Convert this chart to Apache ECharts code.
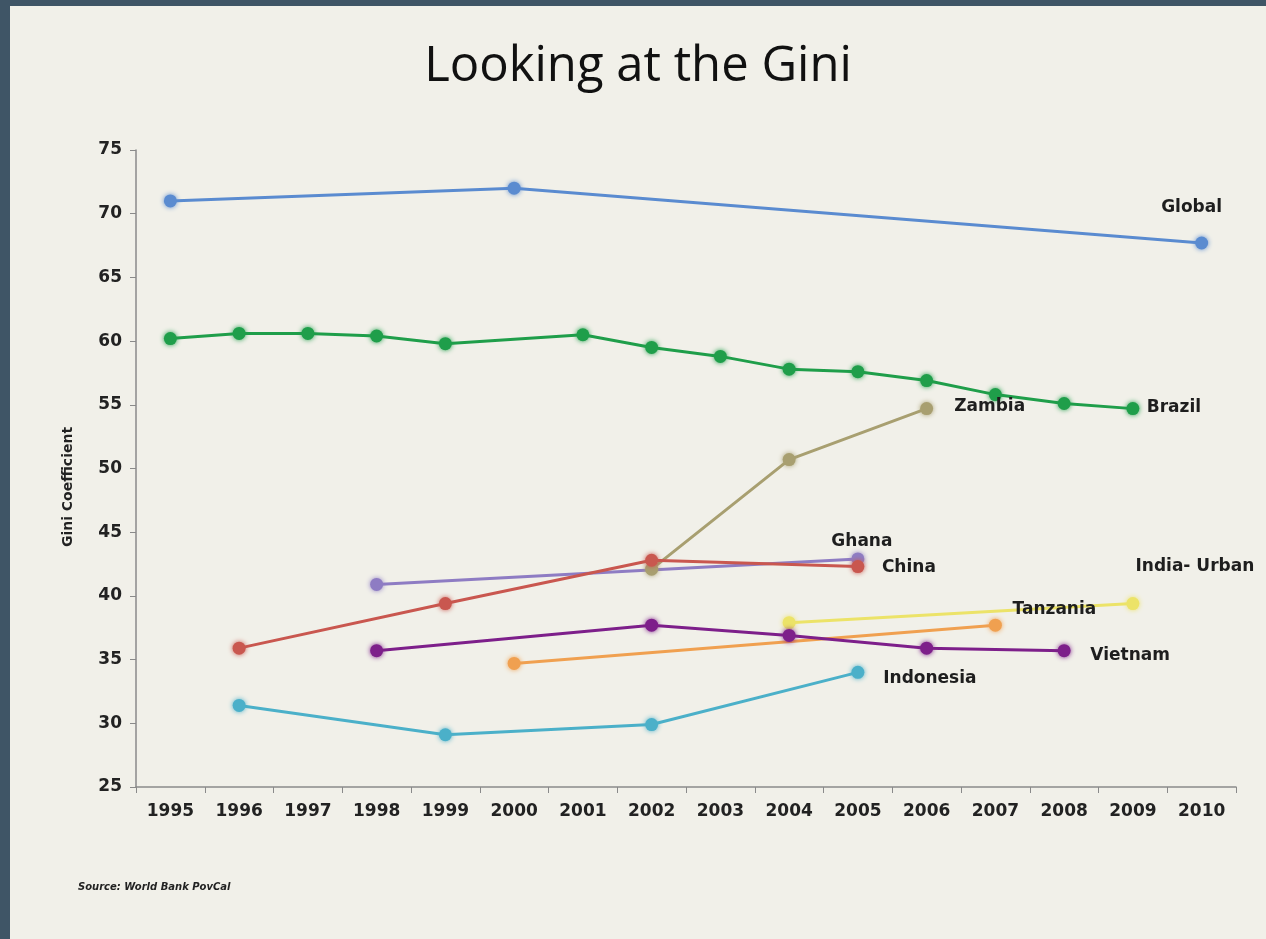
<!DOCTYPE html>
<html>
<head>
<meta charset="utf-8">
<script src="https://cdn.jsdelivr.net/npm/echarts@6/dist/echarts.min.js"></script>
<style>
  html, body { margin: 0; padding: 0; width: 1266px; height: 939px; background: #3f5566; overflow: hidden; }
  #chart { position: absolute; left: 10px; top: 6px; width: 1256px; height: 933px; background: #f1f0e9; }
</style>
</head>
<body>
<div id="chart"></div>
<script>
const years = ['1995','1996','1997','1998','1999','2000','2001','2002','2003','2004','2005','2006','2007','2008','2009','2010'];
const yTicks = { min: 25, max: 75, interval: 5 };

const globalVals    = [71.0, null, null, null, null, 72.0, null, null, null, null, null, null, null, null, null, 67.7];
const brazilVals    = [60.2, 60.6, 60.6, 60.4, 59.8, null, 60.5, 59.5, 58.8, 57.8, 57.6, 56.9, 55.8, 55.1, 54.7, null];
const zambiaVals    = [null, null, null, null, null, null, null, 42.1, null, 50.7, null, 54.7, null, null, null, null];
const ghanaVals     = [null, null, null, 40.9, null, null, null, null, null, null, 42.9, null, null, null, null, null];
const chinaVals     = [null, 35.9, null, null, 39.4, null, null, 42.8, null, null, 42.3, null, null, null, null, null];
const indiaVals     = [null, null, null, null, null, null, null, null, null, 37.9, null, null, null, null, 39.4, null];
const tanzaniaVals  = [null, null, null, null, null, 34.7, null, null, null, null, null, null, 37.7, null, null, null];
const vietnamVals   = [null, null, null, 35.7, null, null, null, 37.7, null, 36.9, null, 35.9, null, 35.7, null, null];
const indonesiaVals = [null, 31.4, null, null, 29.1, null, null, 29.9, null, null, 34.0, null, null, null, null, null];

const seriesDefs = [
  { name: 'Global',       vals: globalVals,    color: '#5a8bd0', labelIdx: 15, offset: [-10, -35] },
  { name: 'Brazil',       vals: brazilVals,    color: '#1f9e4a', labelIdx: 14, offset: [41, -1] },
  { name: 'Zambia',       vals: zambiaVals,    color: '#a89f70', labelIdx: 11, offset: [63, -2] },
  { name: 'Ghana',        vals: ghanaVals,     color: '#8e7cc3', labelIdx: 10, offset: [4, -17] },
  { name: 'China',        vals: chinaVals,     color: '#c9574f', labelIdx: 10, offset: [51, 1] },
  { name: 'India- Urban', vals: indiaVals,     color: '#ece368', labelIdx: 14, offset: [62, -37] },
  { name: 'Tanzania',     vals: tanzaniaVals,  color: '#f0a050', labelIdx: 12, offset: [59, -16] },
  { name: 'Vietnam',      vals: vietnamVals,   color: '#7d1f8a', labelIdx: 13, offset: [66, 5] },
  { name: 'Indonesia',    vals: indonesiaVals, color: '#4bb0c9', labelIdx: 10, offset: [72, 6] }
];

const labelFont = { fontFamily: 'DejaVu Sans', fontWeight: 'bold', fontSize: 17, color: '#1e1e1e' };

const series = seriesDefs.map(s => ({
  name: s.name,
  type: 'line',
  connectNulls: true,
  symbol: 'circle',
  symbolSize: 13,
  lineStyle: { width: 3, color: s.color },
  itemStyle: { color: s.color, shadowBlur: 5, shadowColor: s.color },
  emphasis: { disabled: true },
  data: s.vals.map((v, i) => i === s.labelIdx ? {
    value: v,
    label: Object.assign({ show: true, position: 'inside', offset: s.offset, formatter: s.name }, labelFont)
  } : v)
}));

const chart = echarts.init(document.getElementById('chart'), null, { renderer: 'canvas' });
chart.setOption({
  backgroundColor: '#f1f0e9',
  animation: false,
  title: {
    text: 'Looking at the Gini',
    left: 'center',
    top: 32,
    textStyle: { fontFamily: 'Open Sans', fontWeight: 'normal', fontSize: 49, color: '#111' }
  },
  grid: { left: 126, right: 30, top: 144, bottom: 152 },
  xAxis: {
    type: 'category',
    data: years,
    boundaryGap: true,
    axisLine: { lineStyle: { color: '#8a8a8a', width: 1.5 } },
    axisTick: { show: true, length: 6, lineStyle: { color: '#8a8a8a' } },
    axisLabel: { margin: 16, fontFamily: 'DejaVu Sans', fontWeight: 'bold', fontSize: 17, color: '#222' }
  },
  yAxis: {
    type: 'value',
    min: yTicks.min,
    max: yTicks.max,
    interval: yTicks.interval,
    splitLine: { show: false },
    axisLine: { show: true, lineStyle: { color: '#8a8a8a', width: 1.5 } },
    axisTick: { show: true, length: 6, lineStyle: { color: '#8a8a8a' } },
    axisLabel: { margin: 14, fontFamily: 'DejaVu Sans', fontWeight: 'bold', fontSize: 17, color: '#222' }
  },
  graphic: [{
    type: 'text',
    x: 58,
    y: 481,
    rotation: Math.PI / 2,
    style: { text: 'Gini Coefficient', font: 'bold 14px "DejaVu Sans"', fill: '#222', align: 'center', verticalAlign: 'middle' }
  }, {
    type: 'text',
    left: 68,
    top: 876,
    style: { text: 'Source: World Bank PovCal', font: 'italic bold 10px "DejaVu Sans"', fill: '#222' }
  }],
  series: series
});
</script>
</body>
</html>
